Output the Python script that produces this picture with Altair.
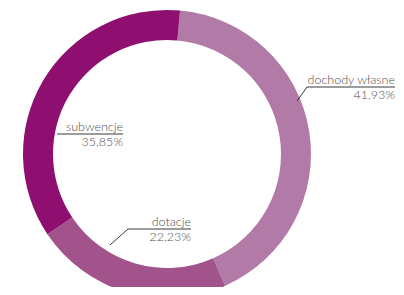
import math
import altair as alt
import pandas as pd

# ---- data ----
categories = ["dochody własne", "dotacje", "subwencje"]
values = [41.93, 22.23, 35.85]
pct_labels = ["41,93%", "22,23%", "35,85%"]
colors = ["#B27AA7", "#A2538B", "#8E0F6F"]

# ---- layout (pixels in chart coordinates) ----
center = (159, 146)
outer_r, inner_r = 144, 114
start_deg = 5.2
# per label: underline start x, underline end x, underline y, leader start (x, y) or None
label_layout = [
    (299, 387, 79, (289, 93)),
    (120, 183, 221, (102, 237)),
    (49, 115, 126, None),
]

df = pd.DataFrame({"cat": categories, "value": values, "idx": list(range(len(categories)))})

start = math.radians(start_deg)
arcs = alt.Chart(df).mark_arc(radius=outer_r, radius2=inner_r).encode(
    theta=alt.Theta("value:Q", stack=True,
                    scale=alt.Scale(range=[start, start + 2 * math.pi])),
    color=alt.Color("cat:N", scale=alt.Scale(domain=categories, range=colors), legend=None),
    order=alt.Order("idx:Q"),
    x=alt.value(center[0]),
    y=alt.value(center[1]),
)

seg_rows = []
txt_rows = []
for cat, pct, (ux0, ux1, uy, lead) in zip(categories, pct_labels, label_layout):
    seg_rows.append({"x": ux0, "y": uy, "x2": ux1, "y2": uy})
    if lead is not None:
        seg_rows.append({"x": lead[0], "y": lead[1], "x2": ux0, "y2": uy})
    txt_rows.append({"x": ux1, "y": uy - 3, "t": cat})
    txt_rows.append({"x": ux1, "y": uy + 12, "t": pct})

segs = alt.Chart(pd.DataFrame(seg_rows)).mark_rule(color="#3a3a3a", strokeWidth=1).encode(
    x=alt.X("x:Q", scale=None, axis=None),
    y=alt.Y("y:Q", scale=None, axis=None),
    x2="x2:Q",
    y2="y2:Q",
)

texts = alt.Chart(pd.DataFrame(txt_rows)).mark_text(
    align="right", baseline="alphabetic", font="Lato", fontWeight=300,
    fontSize=12.5, color="#505050",
).encode(
    x=alt.X("x:Q", scale=None, axis=None),
    y=alt.Y("y:Q", scale=None, axis=None),
    text="t:N",
)

chart = alt.layer(arcs, segs, texts).properties(
    width=388, height=279, padding=0, autosize="none",
).configure_view(stroke=None)

chart.save("out.html", embed_options={"renderer": "svg", "actions": False})
